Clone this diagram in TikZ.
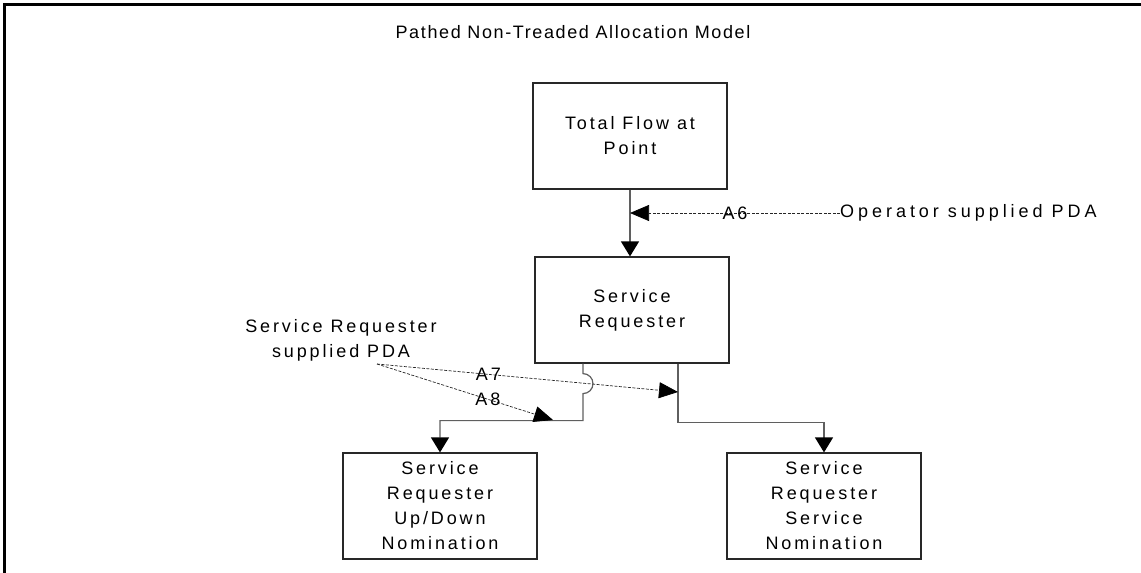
\documentclass[tikz,border=0pt]{standalone}
\usepackage{fontspec}
\setmainfont{Liberation Sans}[LetterSpace=16]
\usetikzlibrary{arrows.meta,positioning}
\definecolor{boxgray}{RGB}{40,40,40}
\definecolor{linegray}{RGB}{95,95,95}

\begin{document}
\begin{tikzpicture}[x=1pt,y=-1pt,
  every node/.style={font=\fontsize{18}{25}\selectfont},
  procbox/.style={draw=boxgray, line width=1.2pt, align=center,
    minimum width=194pt, minimum height=106pt, inner sep=0pt},
  flow/.style={draw=linegray, line width=1.2pt,
    -{Triangle[length=15pt,width=18pt,black]}},
  pdaline/.style={draw=black!85, line width=0.7pt, dash pattern=on 3pt off 1.5pt,
    -{Triangle[length=19pt,width=16pt,black]}},
  tag/.style={inner sep=0pt}]
\useasboundingbox (0,0) rectangle (1141,573);
% -- Frame --
\draw[line width=3pt] (4,573) -- (4,4) -- (1141,4);
\node[font=\fontsize{18}{25}\selectfont\addfontfeature{LetterSpace=9}] (title) at (573,32)
  {Pathed Non-Treaded Allocation Model};
% -- Boxes --
\node[procbox] (total) at (630,136) {Total Flow at\\Point};
\node[procbox] (req) at (632,310) {Service\\Requester};
\node[procbox] (updown) at (440,506) {Service\\Requester\\Up/Down\\Nomination};
\node[procbox] (servnom) at (824,506) {Service\\Requester\\Service\\Nomination};
% -- PDA sources --
\node[tag, anchor=west, font=\fontsize{18}{25}\selectfont\addfontfeature{LetterSpace=22}]
  (oper) at (840,213) {Operator supplied PDA};
\node[tag, align=center] (reqpda) at (341,340) {Service Requester\\supplied PDA};
\coordinate (src) at (377,364);
\coordinate (a7end) at (678,392);
\coordinate (a8end) at (553,420);
% -- Flow connectors --
\draw[flow] (total) -- (total.south |- req.north);
\draw[flow] ([xshift=46pt]req.south) -- ++(0,59) -| (servnom.north);
\draw[flow] ([xshift=-49pt]req.south) -- ++(0,10)
  arc[start angle=-90, end angle=90, radius=10] -- ++(0,27) -| (updown.north);
% -- Allocations --
\draw[pdaline] (oper.west) -- (total.south |- oper.west) node[tag, pos=0.5] {A6};
\draw[pdaline] (src) -- (a7end) node[tag, pos=0.37] {A7};
\draw[pdaline] (src) -- (a8end) node[tag, pos=0.63] {A8};
\end{tikzpicture}
\end{document}
